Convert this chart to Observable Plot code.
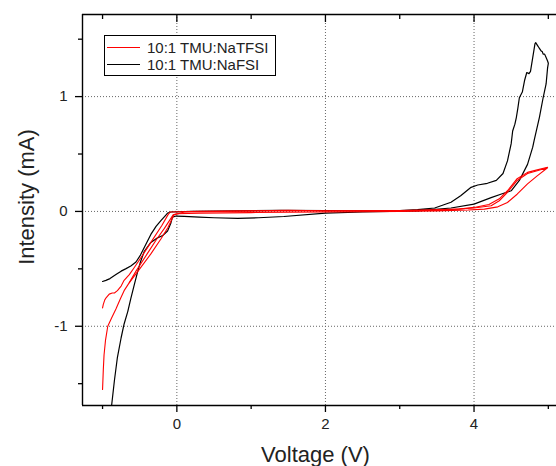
<!DOCTYPE html>
<html>
<head>
<meta charset="utf-8">
<script src="https://cdn.jsdelivr.net/npm/d3@7"></script>
<script src="https://cdn.jsdelivr.net/npm/@observablehq/plot@0.6"></script>
<style>
  html, body { margin: 0; padding: 0; background: #fff; }
  #wrap { position: relative; width: 556px; height: 466px; font-family: "Liberation Sans", Arial, sans-serif; }
  #legend { position: absolute; left: 104px; top: 35px; width: 172px; height: 41px; border: 1px solid #000; background: #fff; box-sizing: border-box; padding-top: 3px; }
  .row { display: flex; align-items: center; height: 17px; font-size: 15px; color: #222; }
  .swatch { width: 33px; height: 0; border-top: 1.3px solid; margin-left: 2px; margin-right: 7px; }
</style>
</head>
<body>
<div id="wrap"><div id="legend"></div></div>
<script>
// ---- data (Voltage V, Intensity mA) ----
const seriesNames = ["10:1 TMU:NaTFSI", "10:1 TMU:NaFSI"];
const seriesColors = ["#ff0000", "#000000"];

const xMajorTicks = [0, 2, 4];
const xMinorTicks = [-1, 1, 3, 5];
const yMajorTicks = [-1, 0, 1];
const yMinorTicks = [-1.5, -0.5, 0.5, 1.5];

// NaFSI (black), one continuous scan
const nafsiScan = [
  [-1.00,-0.61],[-0.955,-0.60],[-0.90,-0.585],[-0.82,-0.55],[-0.75,-0.52],[-0.69,-0.50],[-0.62,-0.475],
  [-0.55,-0.44],[-0.49,-0.38],[-0.42,-0.29],[-0.35,-0.20],[-0.28,-0.13],[-0.215,-0.08],[-0.16,-0.04],
  [-0.125,-0.015],[-0.08,-0.005],[0.2,0.0],[0.8,0.005],[1.4,0.01],[2.0,0.008],[2.6,0.005],[3.0,0.008],
  [3.24,0.015],[3.47,0.03],[3.69,0.08],[3.82,0.137],[3.96,0.21],[4.05,0.23],[4.18,0.245],[4.30,0.27],
  [4.39,0.33],[4.45,0.44],[4.50,0.59],[4.52,0.70],[4.55,0.76],[4.57,0.82],[4.59,0.90],[4.61,0.99],
  [4.65,1.04],[4.68,1.14],[4.71,1.21],[4.74,1.20],[4.76,1.22],[4.79,1.34],[4.82,1.46],[4.83,1.47],
  [4.86,1.44],[4.87,1.43],[4.88,1.42],[4.90,1.40],[4.92,1.39],[4.93,1.37],[4.95,1.37],[4.97,1.34],
  [4.99,1.31],[5.00,1.29],
  [4.99,1.25],[4.97,1.11],[4.93,0.99],[4.88,0.82],[4.81,0.62],[4.79,0.56],[4.72,0.41],[4.61,0.27],
  [4.50,0.18],[4.36,0.15],[4.23,0.12],[4.0,0.064],[3.69,0.03],[3.24,0.005],[2.5,-0.005],[2.0,-0.015],
  [1.44,-0.044],[1.1,-0.055],[0.82,-0.06],[0.5,-0.055],[0.3,-0.05],[0.1,-0.043],[-0.01,-0.04],
  [-0.06,-0.05],[-0.08,-0.10],[-0.125,-0.17],[-0.19,-0.21],[-0.26,-0.23],[-0.35,-0.27],[-0.44,-0.35],
  [-0.49,-0.44],[-0.53,-0.53],[-0.57,-0.63],[-0.62,-0.76],[-0.66,-0.87],[-0.71,-0.98],[-0.75,-1.10],
  [-0.80,-1.27],[-0.84,-1.47],[-0.88,-1.70],[-0.90,-1.85]
];

// NaTFSI (red), first cycle
const natfsiCycle1 = [
  [-1.00,-0.84],[-0.99,-0.81],[-0.97,-0.77],[-0.95,-0.75],[-0.91,-0.72],[-0.87,-0.71],[-0.84,-0.71],
  [-0.80,-0.69],[-0.75,-0.65],[-0.71,-0.60],[-0.64,-0.55],[-0.575,-0.49],[-0.45,-0.37],[-0.33,-0.25],
  [-0.20,-0.12],[-0.12,-0.03],[-0.09,-0.005],[0.3,0.002],[1.0,0.005],[1.5,0.01],[2.0,0.006],[3.0,0.005],
  [3.5,0.01],[4.0,0.03],[4.23,0.05],[4.34,0.093],[4.45,0.166],[4.58,0.27],[4.72,0.33],[4.85,0.355],
  [4.99,0.38],
  [4.85,0.31],[4.72,0.24],[4.58,0.15],[4.45,0.078],[4.32,0.04],[4.14,0.02],[3.92,0.012],[3.5,0.005],
  [3.0,0.0],[2.0,-0.005],[1.0,-0.01],[0.3,-0.015],[0.0,-0.02],[-0.05,-0.03],[-0.10,-0.08],[-0.17,-0.15],
  [-0.27,-0.24],[-0.40,-0.37],[-0.55,-0.52],[-0.64,-0.62],[-0.71,-0.69],[-0.76,-0.76],[-0.82,-0.85],
  [-0.88,-0.93],[-0.93,-1.00],[-0.96,-1.12],[-0.98,-1.25],[-0.99,-1.38],[-1.00,-1.55]
];

// NaTFSI (red), second cycle
const natfsiCycle2 = [
  [-0.64,-0.62],[-0.50,-0.50],[-0.35,-0.37],[-0.215,-0.24],[-0.12,-0.14],[-0.06,-0.06],[-0.04,-0.03],
  [0.1,-0.005],[1.0,0.004],[2.0,0.004],[3.0,0.008],[3.8,0.02],[4.0,0.035],[4.2,0.06],[4.34,0.11],
  [4.45,0.18],[4.58,0.285],[4.72,0.34],[4.85,0.362],[4.99,0.385]
];

const xDomain = [-1.27, 5.11];
const yDomain = [-1.69, 1.715];

const tableOf = (arr, id) => arr.map(([v, i]) => ({v, i, id}));
const black = tableOf(nafsiScan, "b");
const red1 = tableOf(natfsiCycle1, "r1");
const red2 = tableOf(natfsiCycle2, "r2");

const fmt = d => String(d);
const tickStyle = {stroke: "#000", strokeWidth: 1.3};

const chart = Plot.plot({
  width: 556,
  height: 466,
  marginLeft: 82,
  marginRight: 0,
  marginTop: 14,
  marginBottom: 61,
  x: {domain: xDomain},
  y: {domain: yDomain},
  style: {fontFamily: "'Liberation Sans', Arial, sans-serif", background: "#fff", color: "#222"},
  marks: [
    Plot.gridX(xMajorTicks, {stroke: "#666", strokeOpacity: 1, strokeWidth: 1, strokeDasharray: "1,2"}),
    Plot.gridY(yMajorTicks, {stroke: "#666", strokeOpacity: 1, strokeWidth: 1, strokeDasharray: "1,2"}),
    Plot.line(black, {x: "v", y: "i", z: "id", stroke: seriesColors[1], strokeWidth: 1.2, clip: true}),
    Plot.line(red1, {x: "v", y: "i", z: "id", stroke: seriesColors[0], strokeWidth: 1.1, clip: true}),
    Plot.line(red2, {x: "v", y: "i", z: "id", stroke: seriesColors[0], strokeWidth: 1.1, clip: true}),
    Plot.ruleY([yDomain[0], yDomain[1]], {stroke: "#000", strokeWidth: 1.4}),
    Plot.ruleX([xDomain[0]], {stroke: "#000", strokeWidth: 1.4}),
    // bottom axis
    Plot.axisX(xMajorTicks, {anchor: "bottom", tickSize: 7, tickPadding: 6, fontSize: 15, tickFormat: fmt, label: null, ...tickStyle, fill: "#222"}),
    Plot.axisX(xMinorTicks, {anchor: "bottom", tickSize: 4, fill: "none", label: null, ...tickStyle}),
    // top axis (inward ticks)
    Plot.axisX(xMajorTicks, {anchor: "top", tickSize: -7, fill: "none", label: null, ...tickStyle}),
    Plot.axisX(xMinorTicks, {anchor: "top", tickSize: -4, fill: "none", label: null, ...tickStyle}),
    // left axis
    Plot.axisY(yMajorTicks, {anchor: "left", tickSize: 7, tickPadding: 8, fontSize: 15, tickFormat: fmt, label: null, ...tickStyle, fill: "#222"}),
    Plot.axisY(yMinorTicks, {anchor: "left", tickSize: 4, fill: "none", label: null, ...tickStyle}),
    // axis titles
    Plot.text(["Voltage (V)"], {frameAnchor: "bottom", textAnchor: "middle", dx: -4, dy: 49, lineAnchor: "middle", fontSize: 22, fill: "#222"}),
    Plot.text(["Intensity (mA)"], {frameAnchor: "left", textAnchor: "middle", dx: -56, dy: -13, rotate: -90, lineAnchor: "middle", fontSize: 22, fill: "#222"})
  ]
});
const wrap = document.getElementById("wrap");
wrap.insertBefore(chart, wrap.firstChild);

const legend = document.getElementById("legend");
seriesNames.forEach((name, k) => {
  const row = document.createElement("div");
  row.className = "row";
  const sw = document.createElement("span");
  sw.className = "swatch";
  sw.style.borderTopColor = seriesColors[k];
  const label = document.createElement("span");
  label.textContent = name;
  row.appendChild(sw);
  row.appendChild(label);
  legend.appendChild(row);
});
</script>
</body>
</html>
